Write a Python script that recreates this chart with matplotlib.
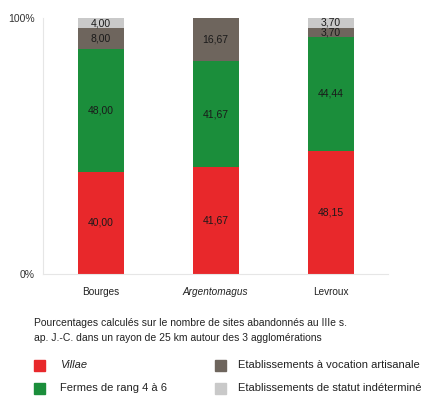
import numpy as np
import matplotlib.pyplot as plt
from matplotlib.patches import Rectangle

plt.rcParams['font.family'] = ['Liberation Sans', 'DejaVu Sans']

sites = ['Bourges', 'Argentomagus', 'Levroux']
villae = [40.00, 41.67, 48.15]
fermes = [48.00, 41.67, 44.44]
artisanale = [8.00, 16.67, 3.70]
indetermine = [4.00, 0.00, 3.70]

series = [villae, fermes, artisanale, indetermine]
colors = ['#E8282B', '#1B8E3B', '#6E655D', '#C9C9C9']
names = ['Villae', 'Fermes de rang 4 à 6',
         'Etablissements à vocation artisanale',
         'Etablissements de statut indéterminé']

fig = plt.figure(figsize=(4.27, 3.96), dpi=100)
ax = fig.add_axes([0.1007, 0.308, 0.808, 0.6465])

x = np.arange(len(sites))
bottom = np.zeros(len(sites))
for vals, col in zip(series, colors):
    vals = np.array(vals)
    ax.bar(x, vals, 0.4, bottom=bottom, color=col, edgecolor='none')
    for xi, b, v in zip(x, bottom, vals):
        if v > 0:
            ax.text(xi, b + v / 2, f'{v:.2f}'.replace('.', ','), ha='center',
                    va='center', fontsize=7.5, color='#1a1a1a')
    bottom += vals

ax.set_xlim(-0.5, 2.5)
ax.set_ylim(0, 100)
ax.set_yticks([0, 100])
ax.set_yticklabels(['0%', '100%'], fontsize=7.5, color='#333333')
ax.set_xticks(x)
ax.set_xticklabels(sites, fontsize=7.2, color='#222222')
ax.get_xticklabels()[1].set_style('italic')
ax.tick_params(length=0)
ax.tick_params(axis='x', pad=9)
ax.tick_params(axis='y', pad=6)
for s in ['top', 'right']:
    ax.spines[s].set_visible(False)
for s in ['left', 'bottom']:
    ax.spines[s].set_color('#E6E6E6')
    ax.spines[s].set_linewidth(0.8)

fig.text(34 / 427, 1 - 323 / 396,
         'Pourcentages calculés sur le nombre de sites abandonnés au IIIe s.',
         fontsize=7.5, va='center', color='#222222')
fig.text(34 / 427, 1 - 338 / 396,
         'ap. J.-C. dans un rayon de 25 km autour des 3 agglomérations',
         fontsize=7.5, va='center', color='#222222')

pos = [(34, 365, 60), (34, 388, 60), (215, 365, 238), (215, 388, 238)]
for (px, py, tx), col, name in zip(pos, colors, names):
    fig.patches.append(Rectangle((px / 427, 1 - (py + 5.5) / 396), 11 / 427, 11 / 396,
                                 transform=fig.transFigure, color=col))
    fig.text(tx / 427, 1 - py / 396, name, fontsize=8, va='center',
             color='#222222', style='italic' if name == 'Villae' else 'normal')

fig.savefig('out.png', dpi=100)
